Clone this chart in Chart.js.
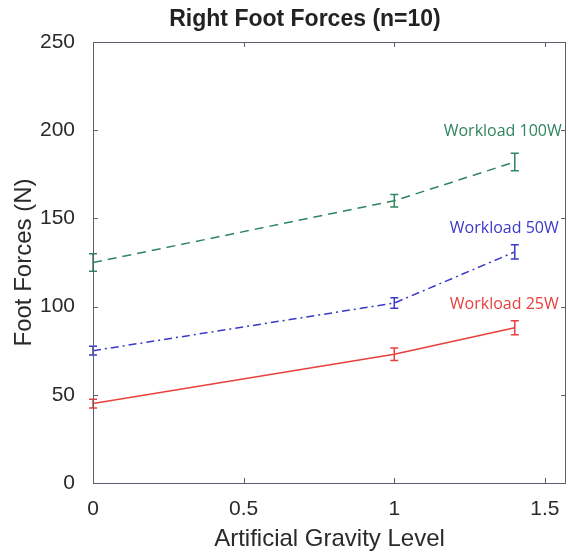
<!DOCTYPE html>
<html><head><meta charset="utf-8">
<script src="https://cdn.jsdelivr.net/npm/chart.js@4/dist/chart.umd.min.js"></script>
<style>html,body{margin:0;padding:0;background:#fff;}#wrap{width:569px;height:554px;}</style>
</head><body><div id="wrap"><canvas id="c" width="569" height="554"></canvas></div>
<script>
const gravityLevels = [0, 1, 1.4];
const force100 = [125, 160, 182];
const err100 = [5, 3.5, 5];
const force50 = [75, 102, 131];
const err50 = [2.5, 3, 4];
const force25 = [45, 73, 88];
const err25 = [2.5, 3.5, 4];
const xTicks = [0, 0.5, 1, 1.5];
const yTicks = [0, 50, 100, 150, 200, 250];
const seriesNames = ['Workload 100W', 'Workload 50W', 'Workload 25W'];

const GREEN = '#2e8560', BLUE = '#3a3ac8', RED = '#e8403c';
const pts = (ys) => gravityLevels.map((x, i) => ({x, y: ys[i]}));

const labelAnchors = [
  {text: seriesNames[0], x: 1.36, y: 199.5, color: GREEN},
  {text: seriesNames[1], x: 1.365, y: 144.5, color: BLUE},
  {text: seriesNames[2], x: 1.365, y: 101.4, color: RED}
];

const errorBars = {
  id: 'errorBars',
  afterDatasetsDraw(chart) {
    const {ctx, scales: {x, y}} = chart;
    const errs = [err100, err50, err25];
    chart.data.datasets.forEach((ds, di) => {
      ctx.save();
      ctx.strokeStyle = ds.borderColor;
      ctx.lineWidth = 1.5;
      ds.data.forEach((p, i) => {
        const px = x.getPixelForValue(p.x);
        const top = y.getPixelForValue(p.y + errs[di][i]);
        const bot = y.getPixelForValue(p.y - errs[di][i]);
        ctx.beginPath();
        ctx.moveTo(px, top); ctx.lineTo(px, bot);
        ctx.moveTo(px - 4, top); ctx.lineTo(px + 4, top);
        ctx.moveTo(px - 4, bot); ctx.lineTo(px + 4, bot);
        ctx.stroke();
      });
      ctx.restore();
    });
  }
};

const frame = {
  id: 'frame',
  afterDraw(chart) {
    const {ctx, chartArea: a, scales: {x, y}} = chart;
    ctx.save();
    ctx.strokeStyle = '#5a5f70';
    ctx.lineWidth = 1;
    ctx.strokeRect(a.left + 0.5, a.top + 0.5, a.right - a.left - 1, a.bottom - a.top);
    ctx.beginPath();
    x.ticks.forEach(t => {
      const px = Math.round(x.getPixelForValue(t.value)) + 0.5;
      ctx.moveTo(px, a.bottom); ctx.lineTo(px, a.bottom - 5);
      ctx.moveTo(px, a.top); ctx.lineTo(px, a.top + 5);
    });
    y.ticks.forEach(t => {
      const py = Math.round(y.getPixelForValue(t.value)) + 0.5;
      ctx.moveTo(a.left, py); ctx.lineTo(a.left + 5, py);
      ctx.moveTo(a.right, py); ctx.lineTo(a.right - 5, py);
    });
    ctx.stroke();
    // title
    ctx.fillStyle = '#222';
    ctx.font = 'bold 23px "Liberation Sans", Arial, sans-serif';
    ctx.textAlign = 'center';
    ctx.textBaseline = 'middle';
    ctx.fillText('Right Foot Forces (n=10)', 305, 20);
    // series labels
    ctx.font = '16px "Open Sans", sans-serif';
    labelAnchors.forEach(l => {
      ctx.fillStyle = l.color;
      ctx.fillText(l.text, x.getPixelForValue(l.x), y.getPixelForValue(l.y));
    });
    ctx.restore();
  }
};

const TXT = '#2a2a2a';
const FAM = '"Liberation Sans", Arial, sans-serif';

new Chart(document.getElementById('c'), {
  type: 'line',
  data: {
    datasets: [
      {label: seriesNames[0], data: pts(force100), borderColor: GREEN, borderDash: [9, 6], borderWidth: 1.5, pointRadius: 0, fill: false},
      {label: seriesNames[1], data: pts(force50), borderColor: BLUE, borderDash: [8, 4, 2, 4], borderWidth: 1.5, pointRadius: 0, fill: false},
      {label: seriesNames[2], data: pts(force25), borderColor: RED, borderWidth: 1.5, pointRadius: 0, fill: false}
    ]
  },
  options: {
    responsive: false,
    animation: false,
    layout: {padding: {top: 42, right: 3, left: 0, bottom: 0}},
    plugins: {legend: {display: false}, title: {display: false}, tooltip: {enabled: false}},
    scales: {
      x: {
        type: 'linear', min: 0, max: 1.57,
        afterBuildTicks: s => { s.ticks = xTicks.map(v => ({value: v})); },
        afterFit: s => { s.height = 71; s.paddingRight = 0; s.paddingLeft = 0; },
        grid: {display: false, drawTicks: false},
        border: {display: false},
        ticks: {color: TXT, font: {family: FAM, size: 21}, padding: 14, maxRotation: 0, callback: v => String(v)},
        title: {display: true, text: 'Artificial Gravity Level', color: TXT, font: {family: FAM, size: 24}, padding: {top: 0, bottom: 0}}
      },
      y: {
        min: 0, max: 250,
        afterBuildTicks: s => { s.ticks = yTicks.map(v => ({value: v})); },
        afterFit: s => { s.width = 93; },
        grid: {display: false, drawTicks: false},
        border: {display: false},
        ticks: {color: TXT, font: {family: FAM, size: 21}, padding: 18, callback: v => String(v)},
        title: {display: true, text: 'Foot Forces (N)', color: TXT, font: {family: FAM, size: 24}, padding: {top: 10, bottom: 0}}
      }
    }
  },
  plugins: [errorBars, frame]
});
</script></body></html>
